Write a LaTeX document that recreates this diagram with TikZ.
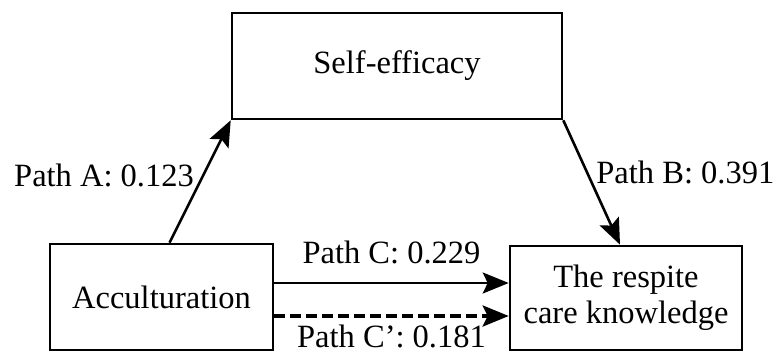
\documentclass[tikz,border=0pt]{standalone}
\usepackage{fontspec}
\setmainfont{Liberation Serif}
\usepackage{tikz}
\usetikzlibrary{arrows.meta, positioning, calc}
\tikzset{>={Stealth[length=26pt,width=21pt,inset=5pt]}}
\tikzset{
  varbox/.style={draw, line width=2.6pt, align=center, inner sep=0pt},
  pathline/.style={->, line width=2.6pt},
  pathlabel/.style={inner sep=0pt}
}

\begin{document}
\begin{tikzpicture}[x=1pt, y=-1pt, font=\fontsize{32.5}{36}\selectfont]
    \useasboundingbox (0,0) rectangle (776,353);
    \node[varbox, minimum width=330pt, minimum height=106pt] (self) at (397,66) {Self-efficacy};
    \node[varbox, minimum width=223pt, minimum height=106pt] (acc) at (161.5,297) {Acculturation};
    \node[varbox, minimum width=232pt, minimum height=104pt] (resp) at (626,298) {The respite\\care knowledge};
    \draw[pathline] ([xshift=8pt]acc.north) -- (self.south west)
        node[pathlabel, pos=0.55, left, xshift=-8pt] (la) {Path A: 0.123};
    \draw[pathline] (self.south east) -- ([xshift=-6pt]resp.north)
        node[pathlabel, pos=0.42, right, xshift=8pt] (lb) {Path B: 0.391};
    \draw[pathline] ([yshift=14pt]acc.east) -- ([yshift=14pt]acc.east -| resp.west)
        node[pathlabel, midway, yshift=31pt] (lc) {Path C: 0.229};
    \draw[pathline, line width=3.6pt, dash pattern=on 11pt off 5pt] ([yshift=-19pt]acc.east) -- ([yshift=-19pt]acc.east -| resp.west)
        node[pathlabel, midway, yshift=-20pt] (lcp) {Path C’: 0.181};
\end{tikzpicture}
\end{document}
